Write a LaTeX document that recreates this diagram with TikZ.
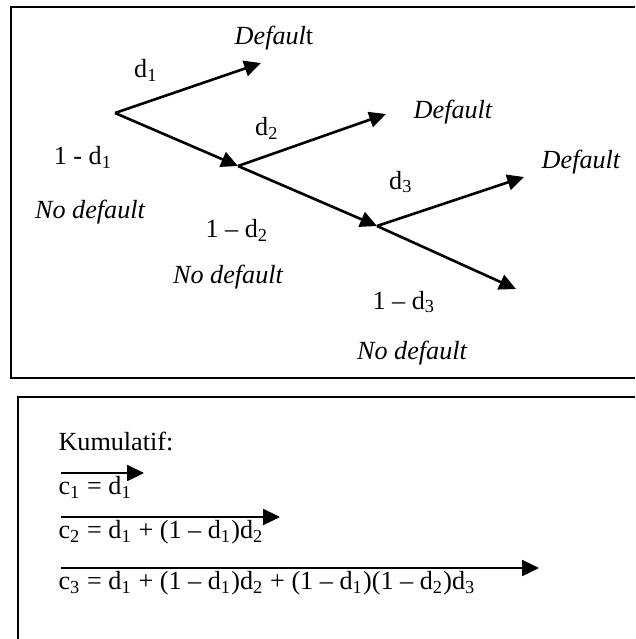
\documentclass[tikz,border=0pt]{standalone}
\usepackage{fontspec}
\setmainfont{Liberation Serif}
\usetikzlibrary{arrows.meta}

\begin{document}
\begin{tikzpicture}[
 x=0.382pt,y=-0.382pt,
 every node/.style={inner sep=0pt,font=\normalsize},
 tframe/.style={draw=black,line width=0.8pt},
 tflow/.style={-{Triangle[length=6.4pt,width=6pt]},draw=black,line width=1pt},
 tlab/.style={anchor=center},
 tcase/.style={anchor=center,font=\normalsize\itshape},
 ceq/.style={anchor=north west}]
\useasboundingbox (0,0) rectangle (635,639);
\fill[white] (0,0) rectangle (635,639);
\draw[tframe] (635,7) -- (11,7) -- (11,378) -- (635,378);
\draw[tframe] (635,397) -- (18,397) -- (18,639);
\coordinate (root) at (115,113);
\coordinate (n2) at (238,166);
\coordinate (n3) at (377,226);
\coordinate (up1) at (261,63);
\coordinate (up2) at (386,114);
\coordinate (up3) at (524,177);
\coordinate (down3) at (516,289);
\node[tcase] (def1) at (274,38) {Defaul\textup{t}};
\node[tlab] (d1) at (146,70) {d\textsubscript{1}};
\node[tlab] (d2) at (267,128) {d\textsubscript{2}};
\node[tcase] (def2) at (453,112) {Default};
\node[tlab] (nd1) at (83,157) {1 - d\textsubscript{1}};
\node[tcase] (no1) at (90,212) {No default};
\node[tlab] (d3) at (401,182) {d\textsubscript{3}};
\node[tcase] (def3) at (581,162) {Default};
\node[tlab] (nd2) at (237,230) {1 – d\textsubscript{2}};
\node[tcase] (no2) at (228,277) {No default};
\node[tlab] (nd3) at (404,302) {1 – d\textsubscript{3}};
\node[tcase] (no3) at (412,353) {No default};
\draw[tflow] (root) -- (up1);
\draw[tflow] (root) -- (n2);
\draw[tflow] (n2) -- (up2);
\draw[tflow] (n2) -- (n3);
\draw[tflow] (n3) -- (up3);
\draw[tflow] (n3) -- (down3);
\node[anchor=west] (kum) at (58,441) {Kumulatif:};
\coordinate (s1) at (61,473);
\coordinate (e1) at (144,473);
\coordinate (s2) at (61,517);
\coordinate (e2) at (280,517);
\coordinate (s3) at (61,568);
\coordinate (e3) at (539,568);
\node[ceq] (c1) at (58,476) {c\textsubscript{1} = d\textsubscript{1}};
\node[ceq] (c2) at (58,520) {c\textsubscript{2} = d\textsubscript{1} + (1 – d\textsubscript{1})d\textsubscript{2}};
\node[ceq] (c3) at (58,571) {c\textsubscript{3} = d\textsubscript{1} + (1 – d\textsubscript{1})d\textsubscript{2} + (1 – d\textsubscript{1})(1 – d\textsubscript{2})d\textsubscript{3}};
\draw[tflow] (s1) -- (e1);
\draw[tflow] (s2) -- (e2);
\draw[tflow] (s3) -- (e3);
\end{tikzpicture}
\end{document}
